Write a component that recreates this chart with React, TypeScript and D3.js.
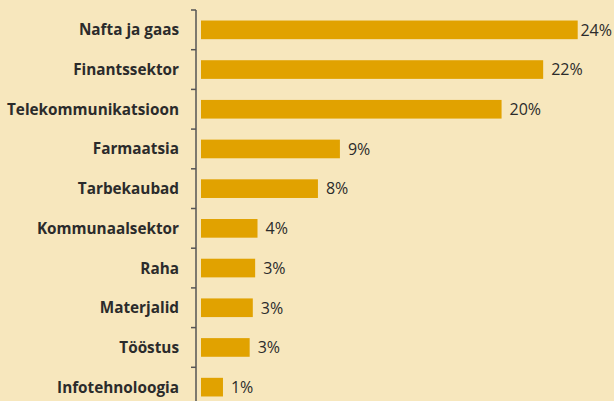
import React from "react";
import * as d3 from "d3";

const categories = [
  "Nafta ja gaas",
  "Finantssektor",
  "Telekommunikatsioon",
  "Farmaatsia",
  "Tarbekaubad",
  "Kommunaalsektor",
  "Raha",
  "Materjalid",
  "Tööstus",
  "Infotehnoloogia",
];
const values = [24, 21.8, 19.15, 8.85, 7.45, 3.6, 3.45, 3.3, 3.1, 1.4];
const valueLabels = ["24%", "22%", "20%", "9%", "8%", "4%", "3%", "3%", "3%", "1%"];

const W = 614;
const H = 401;
const AXIS_X = 196;
const BAR_X0 = 201;

export default function App() {
  const x = d3.scaleLinear().domain([0, 24]).range([BAR_X0, BAR_X0 + 376.7]);
  const y = d3
    .scaleBand<string>()
    .domain(categories)
    .range([10, 407])
    .paddingInner(0.53)
    .paddingOuter(0.265);
  const step = y.step();
  const boundaries = categories.map((c) => (y(c) as number) - (step * 0.53) / 2);
  boundaries.push(boundaries[boundaries.length - 1] + step);

  return (
    <svg
      width={W}
      height={H}
      style={{ position: "absolute", left: 0, top: 0, background: "#f7e7bd" }}
    >
      <rect x={0} y={0} width={W} height={H} fill="#f7e7bd" />
      <line x1={AXIS_X} x2={AXIS_X} y1={boundaries[0]} y2={H} stroke="#555" strokeWidth={1.5} />
      {boundaries.map((b, i) => (
        <line key={i} x1={AXIS_X - 5} x2={AXIS_X} y1={b} y2={b} stroke="#555" strokeWidth={1.5} />
      ))}
      {categories.map((c, i) => {
        const yc = (y(c) as number) + y.bandwidth() / 2;
        const xe = x(values[i]);
        const label = valueLabels[i];
        const overflow = xe + 8 + 34 > W;
        return (
          <g key={c}>
            <rect x={x(0)} y={y(c)} width={xe - x(0)} height={y.bandwidth()} fill="#e1a200" />
            <text
              x={179}
              y={yc}
              dy="0.36em"
              textAnchor="end"
              fontFamily="'Open Sans', sans-serif"
              fontWeight={700}
              fontSize={15.3}
              fill="#2b2b2b"
            >
              {c}
            </text>
            <text
              x={overflow ? W - 2 : xe + 8}
              y={yc}
              dy="0.36em"
              textAnchor={overflow ? "end" : "start"}
              fontFamily="'Open Sans', sans-serif"
              fontSize={16}
              fill="#2b2b2b"
            >
              {label}
            </text>
          </g>
        );
      })}
    </svg>
  );
}
